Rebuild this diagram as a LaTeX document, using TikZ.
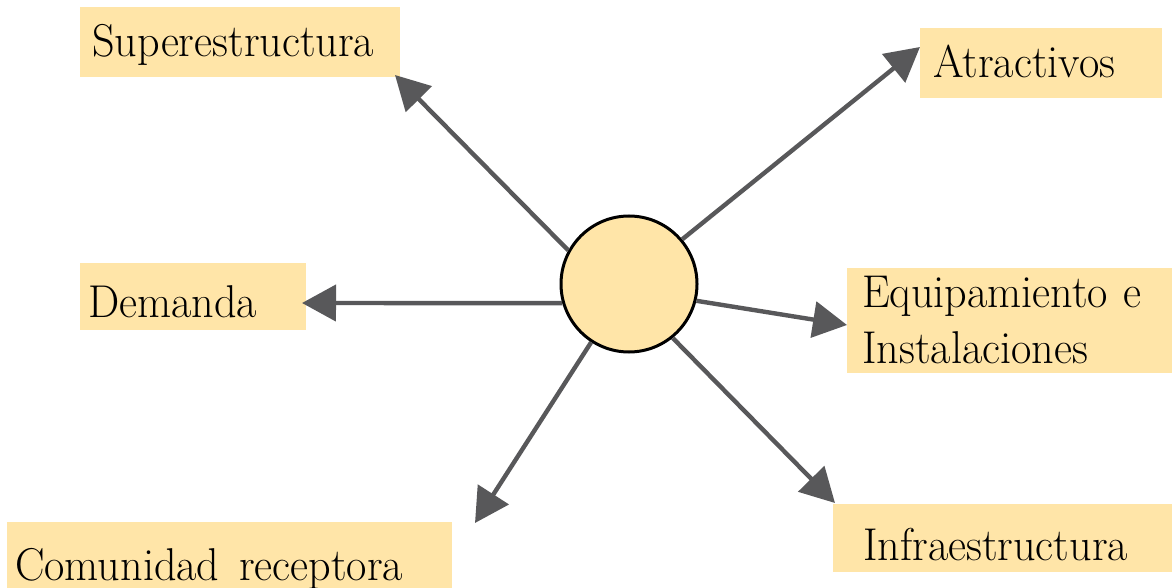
\documentclass[tikz,border=0pt]{standalone}
\usepackage{graphicx}
\usetikzlibrary{arrows.meta}
\definecolor{boxfill}{RGB}{255,229,168}
\definecolor{arrgray}{RGB}{88,88,90}
\newcommand{\lbl}[1]{\scalebox{0.96}[1]{#1}}
\begin{document}
\begin{tikzpicture}[x=1pt,y=-1pt,
  boxbg/.style={fill=boxfill,draw=none,inner sep=0pt,anchor=north west},
  lbltext/.style={anchor=base west,inner sep=0pt,font=\fontsize{46}{54}\selectfont},
  arr/.style={draw=arrgray,line width=4.4pt,-{Triangle[length=34pt,width=36pt]}},
  hub/.style={circle,draw=black,line width=3pt,fill=boxfill,minimum size=136pt,inner sep=0pt}]
\useasboundingbox (0,0) rectangle (1172,588);
% boxes
\node[boxbg,minimum width=320pt,minimum height=70pt] (supbox) at (80,7) {};
\node[boxbg,minimum width=242pt,minimum height=70pt] (atrbox) at (920,28) {};
\node[boxbg,minimum width=226pt,minimum height=67pt] (dembox) at (80,263) {};
\node[boxbg,minimum width=325pt,minimum height=105pt] (eqbox) at (847,268) {};
\node[boxbg,minimum width=445pt,minimum height=66pt] (combox) at (7,522) {};
\node[boxbg,minimum width=339pt,minimum height=68pt] (infbox) at (833,504) {};
% texts
\node[lbltext] (suptxt) at (92,57) {\lbl{Superestructura}};
\node[lbltext] (atrtxt) at (933,78) {\lbl{Atractivos}};
\node[lbltext] (demtxt) at (88,317) {\lbl{Demanda}};
\node[lbltext] (eqtxt1) at (862,307) {\lbl{Equipamiento\hspace{0.35em}e}};
\node[lbltext] (eqtxt2) at (862,363) {\lbl{Instalaciones}};
\node[lbltext] (comtxt) at (15,580) {\lbl{Comunidad\hspace{0.45em}receptora}};
\node[lbltext] (inftxt) at (863,560) {\lbl{Infraestructura}};
% arrow tips
\coordinate (supTip) at (395,75);
\coordinate (atrTip) at (920,47);
\coordinate (demTip) at (302,303);
\coordinate (eqTip) at (847,325);
\coordinate (comTip) at (475,523);
\coordinate (infTip) at (835,503);
% hub
\node[hub] (c) at (629,284) {};
\draw[arr] (c.151) -- (supTip);
\draw[arr] (c.40) -- (atrTip);
\draw[arr] (c.196) -- (demTip);
\draw[arr] (c.346) -- (eqTip);
\draw[arr] (c.237) -- (comTip);
\draw[arr] (c.309) -- (infTip);
\end{tikzpicture}
\end{document}
